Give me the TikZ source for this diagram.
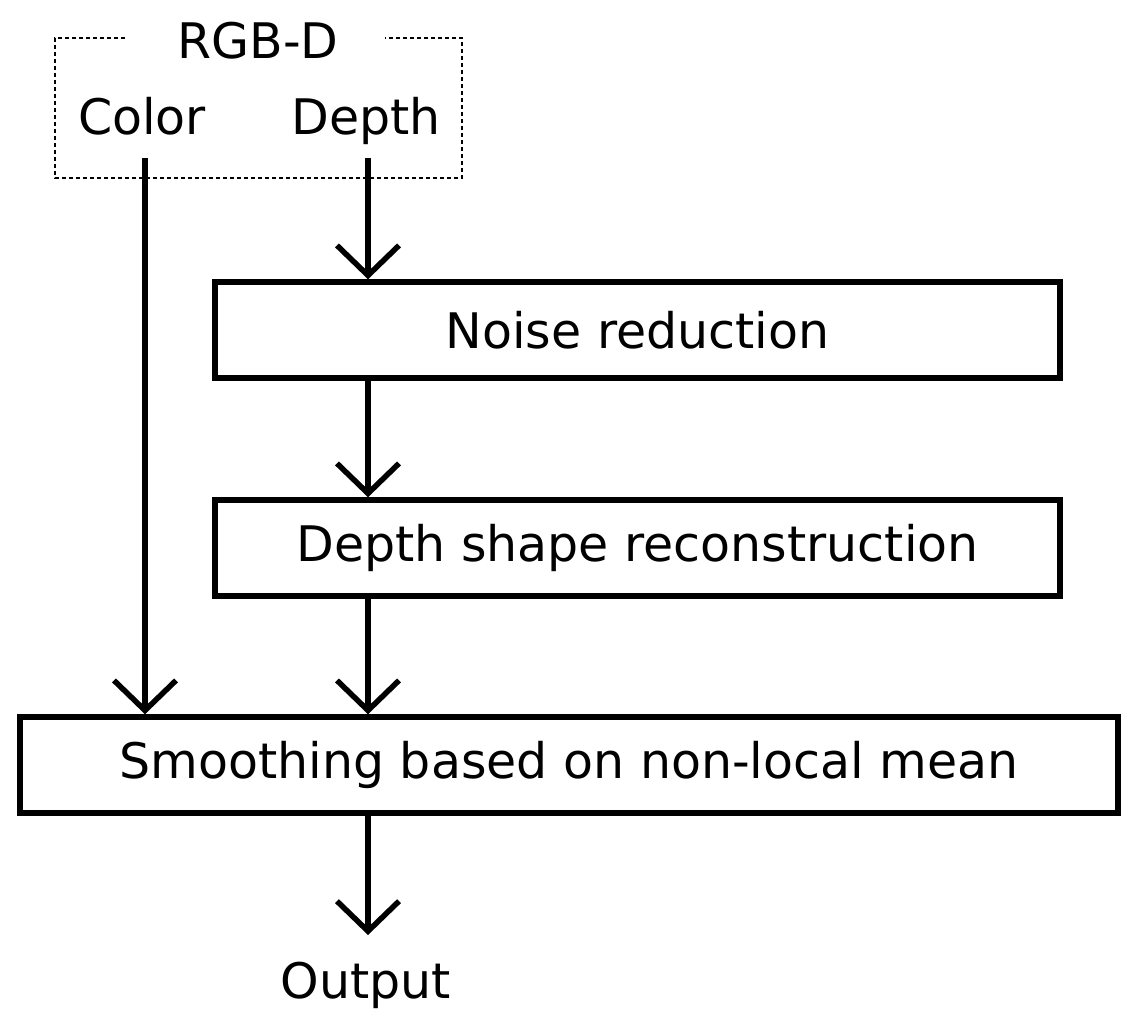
\documentclass[tikz,border=0pt]{standalone}
\usepackage{fontspec}
\setmainfont{DejaVu Sans}
\usetikzlibrary{arrows.meta}
\begin{document}
\begin{tikzpicture}[x=1pt,y=-1pt,
  box/.style={draw,line width=5.5pt,minimum height=96pt,font=\fontsize{49}{55}\selectfont},
  lab/.style={font=\fontsize{49}{55}\selectfont,inner sep=0pt,anchor=base},
  arr/.style={line width=5.5pt,-{Straight Barb[length=30pt,width=62pt,line width=5.5pt]}}]
\useasboundingbox (0,0) rectangle (1135,1023);
\draw[line width=2.5pt,dash pattern=on 4pt off 3pt] (125,38) -- (55,38) -- (55,178) -- (462,178) -- (462,38) -- (385,38);
\node[lab] (rgbd) at (258,58) {RGB-D};
\node[lab] (color) at (142,134) {Color};
\node[lab] (depth) at (366,134) {Depth};
\node[box,minimum width=845pt] (noise) at (637.5,330) {Noise reduction};
\node[box,minimum width=845pt] (shape) at (637.5,548) {Depth shape reconstruction};
\node[box,minimum width=1098pt] (smooth) at (569,765) {Smoothing based on non-local mean};
\node[lab] (out) at (366,998) {Output};
\coordinate (c0) at (145,158);
\coordinate (d0) at (368,158);
\draw[arr] (c0) -- (c0 |- smooth.north);
\draw[arr] (d0) -- (d0 |- noise.north);
\draw[arr] (d0 |- noise.south) -- (d0 |- shape.north);
\draw[arr] (d0 |- shape.south) -- (d0 |- smooth.north);
\draw[arr] (d0 |- smooth.south) -- (368,935);
\end{tikzpicture}
\end{document}
